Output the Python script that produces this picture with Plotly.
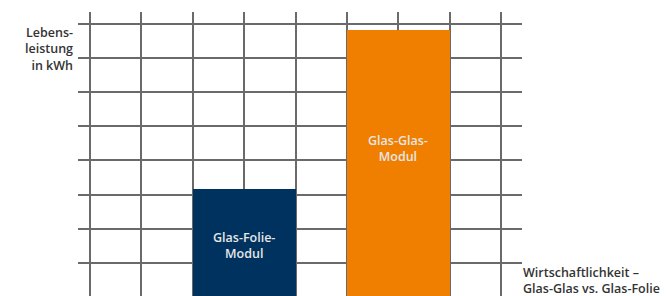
import plotly.graph_objects as go

# Data
categories = ["Glas-Folie-Modul", "Glas-Glas-Modul"]
bar_labels = ["Glas-Folie-<br>Modul", "Glas-Glas-<br>Modul"]
x_positions = [3, 6]          # centre of each bar in grid units
values = [3.16, 7.81]         # Lebensleistung (relative, grid units)
colors = ["#00325f", "#f07f00"]
label_heights = [1.51, 4.35]  # vertical centre of the in-bar label

# page has an 8px body margin, so the figure is drawn 8px in from the corner
OFF = 8
W, H = 668 - OFF, 296 - OFF
FONT = "Open Sans"

fig = go.Figure()
fig.add_trace(go.Bar(
    x=x_positions, y=values, width=[2, 2],
    marker=dict(color=colors, line=dict(width=0)),
    hoverinfo="skip", showlegend=False,
))

for xp, ly, lab in zip(x_positions, label_heights, bar_labels):
    fig.add_annotation(x=xp, y=ly, xref="x", yref="y", text=lab,
                       showarrow=False, align="center",
                       font=dict(family=FONT, size=12.5, color="#e6e6e6", weight=600))

fig.add_annotation(x=(75 - OFF) / W, y=(H - (49 - OFF)) / H, xref="paper", yref="paper",
                   text="Lebens-<br>leistung<br>in kWh", showarrow=False,
                   xanchor="right", yanchor="middle", align="right",
                   font=dict(family=FONT, size=12.5, color="#333333", weight=600))
fig.add_annotation(x=(521 - OFF) / W, y=(H - (280.5 - OFF)) / H, xref="paper", yref="paper",
                   text="Wirtschaftlichkeit –<br>Glas-Glas vs. Glas-Folie",
                   showarrow=False, xanchor="left", yanchor="middle", align="left",
                   font=dict(family=FONT, size=12.5, color="#333333", weight=600))

grid = dict(showgrid=True, gridcolor="#6a6a6a", gridwidth=1.6,
            zeroline=False, showticklabels=False, ticks="", showline=False,
            tick0=0, dtick=1)

fig.update_layout(
    width=W, height=H,
    margin=dict(l=0, r=0, t=0, b=0),
    paper_bgcolor="white", plot_bgcolor="white",
    xaxis=dict(domain=[(78 - OFF) / W, (522 - OFF) / W], range=[-0.233, 8.405], **grid),
    yaxis=dict(domain=[0, (H - (12 - OFF)) / H], range=[0.035, 8.34], **grid),
    bargap=0,
)

fig.write_html("out.html")
